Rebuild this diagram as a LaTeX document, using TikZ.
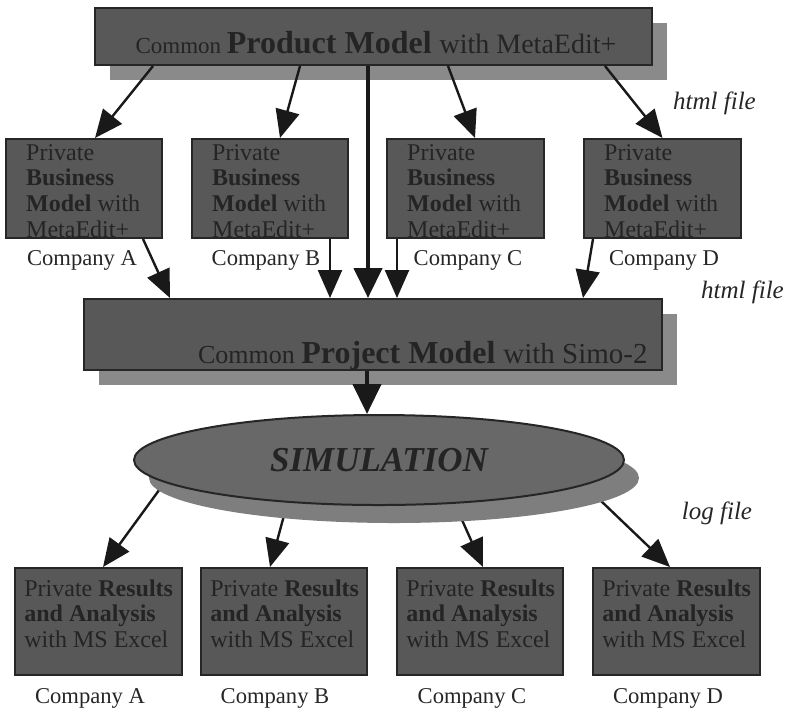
\documentclass[tikz,border=0pt]{standalone}
\usepackage{fontspec}
\setmainfont{Liberation Serif}
\usepackage{xcolor}
\usetikzlibrary{arrows.meta,positioning,shapes.geometric,shadows,backgrounds}

\definecolor{boxgray}{RGB}{88,88,88}
\definecolor{shadowgray}{RGB}{138,138,138}
\definecolor{simgray}{RGB}{104,104,104}
\definecolor{simshadow}{RGB}{126,126,126}
\definecolor{inktext}{RGB}{36,36,36}

\begin{document}
\begin{tikzpicture}[x=0.5pt, y=-0.5pt,
    every node/.style={inner sep=0pt},
    modelbox/.style={draw=black!85, line width=1pt, fill=boxgray,
        drop shadow={shadow xshift=7.5pt, shadow yshift=-7.5pt, fill=shadowgray, opacity=1}},
    privbox/.style={draw=black!85, line width=1pt, fill=boxgray},
    boxtext/.style={text=inktext, align=left, font=\fontsize{12}{12.85}\selectfont},
    company/.style={font=\fontsize{11.3}{13}\selectfont, text=black!85},
    filetag/.style={font=\fontsize{12.5}{14}\selectfont\itshape, text=black!85},
    flow/.style={-{Triangle[length=14pt,width=12pt]}, line width=1.2pt, draw=black!90},
    mainflow/.style={-{Triangle[length=15pt,width=14pt]}, line width=2.2pt, draw=black!90}]

    % Page frame
    \useasboundingbox (0,0) rectangle (786,708);

    % Common product model
    \node[modelbox, minimum width=278.5pt, minimum height=28.5pt] (prod) at (373.5,36.5) {};
    \node[anchor=base, text=inktext] (prodlbl) at ([xshift=1.25pt,yshift=-8.25pt]prod.center)
        {\fontsize{11.5}{14}\selectfont Common \fontsize{16}{18}\selectfont\textbf{Product Model} \fontsize{14}{16}\selectfont with MetaEdit+};

    % Private business models
    \node[privbox, minimum width=78pt, minimum height=49.5pt] (bA) at (84,188.5) {};
    \node[privbox, minimum width=78pt, minimum height=49.5pt] (bB) at (270,188.5) {};
    \node[privbox, minimum width=78.5pt, minimum height=49.5pt] (bC) at (465.5,188.5) {};
    \node[privbox, minimum width=78.5pt, minimum height=49.5pt] (bD) at (662.5,188.5) {};
    \node[boxtext, anchor=north west] (bAtext) at ([xshift=10.4pt,yshift=-3pt]bA.north west) {Private\\\textbf{Business}\\\textbf{Model} with\\MetaEdit+};
    \node[boxtext, anchor=north west] (bBtext) at ([xshift=10.4pt,yshift=-3pt]bB.north west) {Private\\\textbf{Business}\\\textbf{Model} with\\MetaEdit+};
    \node[boxtext, anchor=north west] (bCtext) at ([xshift=10.4pt,yshift=-3pt]bC.north west) {Private\\\textbf{Business}\\\textbf{Model} with\\MetaEdit+};
    \node[boxtext, anchor=north west] (bDtext) at ([xshift=10.4pt,yshift=-3pt]bD.north west) {Private\\\textbf{Business}\\\textbf{Model} with\\MetaEdit+};
    \node[company, below=5.75pt of bA, xshift=-1pt] (bAcomp) {Company A};
    \node[company, below=5.75pt of bB, xshift=-2pt] (bBcomp) {Company B};
    \node[company, below=5.75pt of bC, xshift=1.25pt] (bCcomp) {Company C};
    \node[company, below=5.75pt of bD, xshift=0.75pt] (bDcomp) {Company D};

    % Common project model
    \node[modelbox, minimum width=289pt, minimum height=35.5pt] (proj) at (373,334.5) {};
    \node[anchor=base east, text=inktext] (projlbl) at ([xshift=-7.5pt,yshift=4pt]proj.south east)
        {\fontsize{13}{15}\selectfont Common \fontsize{16}{18}\selectfont\textbf{Project Model} \fontsize{14.5}{17}\selectfont with Simo-2};

    % Simulation
    \node[ellipse, draw=black!85, line width=1pt, fill=simgray,
        minimum width=245pt, minimum height=45pt,
        drop shadow={shadow xshift=7.5pt, shadow yshift=-9pt, fill=simshadow, opacity=1},
        font=\fontsize{17.5}{20}\selectfont\bfseries\itshape, text=inktext] (sim) at (379,460) {SIMULATION};

    % Private results
    \node[privbox, minimum width=83.5pt, minimum height=53.5pt] (rA) at (98.5,621.5) {};
    \node[privbox, minimum width=83pt, minimum height=53.5pt] (rB) at (284,621.5) {};
    \node[privbox, minimum width=83pt, minimum height=53.5pt] (rC) at (480,621.5) {};
    \node[privbox, minimum width=83.5pt, minimum height=53.5pt] (rD) at (676.5,621.5) {};
    \node[boxtext, anchor=north west] (rAtext) at ([xshift=5pt,yshift=-6pt]rA.north west) {Private \textbf{Results}\\\textbf{and Analysis}\\with MS Excel};
    \node[boxtext, anchor=north west] (rBtext) at ([xshift=5pt,yshift=-6pt]rB.north west) {Private \textbf{Results}\\\textbf{and Analysis}\\with MS Excel};
    \node[boxtext, anchor=north west] (rCtext) at ([xshift=5pt,yshift=-6pt]rC.north west) {Private \textbf{Results}\\\textbf{and Analysis}\\with MS Excel};
    \node[boxtext, anchor=north west] (rDtext) at ([xshift=5pt,yshift=-6pt]rD.north west) {Private \textbf{Results}\\\textbf{and Analysis}\\with MS Excel};
    \node[company, below=6.25pt of rA, xshift=-4.25pt] (rAcomp) {Company A};
    \node[company, below=6.25pt of rB, xshift=-4.5pt] (rBcomp) {Company B};
    \node[company, below=6.25pt of rC, xshift=-4pt] (rCcomp) {Company C};
    \node[company, below=6.25pt of rD, xshift=-4.25pt] (rDcomp) {Company D};

    % File tags
    \node[filetag] (tag1) at (714.5,103) {html file};
    \node[filetag] (tag2) at (742.5,292) {html file};
    \node[filetag] (tag3) at (717,513) {log file};

    % Product model to business models
    \draw[flow] ([xshift=-110.25pt]prod.south) -- ([xshift=5.5pt]bA.north);
    \draw[flow] ([xshift=-36.75pt]prod.south) -- ([xshift=5pt]bB.north);
    \draw[mainflow] ([xshift=-2.75pt]prod.south) -- ([xshift=-2.5pt]proj.north);
    \draw[flow] ([xshift=37.25pt]prod.south) -- ([xshift=4.75pt]bC.north);
    \draw[flow] ([xshift=115.75pt]prod.south) -- (bD.north);

    % Business models to project model
    \draw[flow] ([xshift=29.5pt]bA.south) -- ([xshift=-101.5pt]proj.north);
    \draw[flow] ([xshift=30pt]bB.south) -- ([xshift=-21.5pt]proj.north);
    \draw[flow] ([xshift=-34.25pt]bC.south) -- ([xshift=12pt]proj.north);
    \draw[flow] ([xshift=-34.75pt]bD.south) -- ([xshift=105pt]proj.north);

    % Project model to simulation
    \draw[mainflow] ([xshift=-3pt]proj.south) -- ([xshift=-6pt]sim.north);

    % Simulation to results (under the shadow)
    \begin{scope}[on background layer]
        \draw[flow] (sim.186) -- ([xshift=2.25pt]rA.north);
        \draw[flow] (sim.205) -- ([xshift=-7pt]rB.north);
        \draw[flow] (sim.330) -- ([xshift=1.5pt]rC.north);
        \draw[flow] (sim.353) -- ([xshift=-3.25pt]rD.north);
    \end{scope}
\end{tikzpicture}
\end{document}
